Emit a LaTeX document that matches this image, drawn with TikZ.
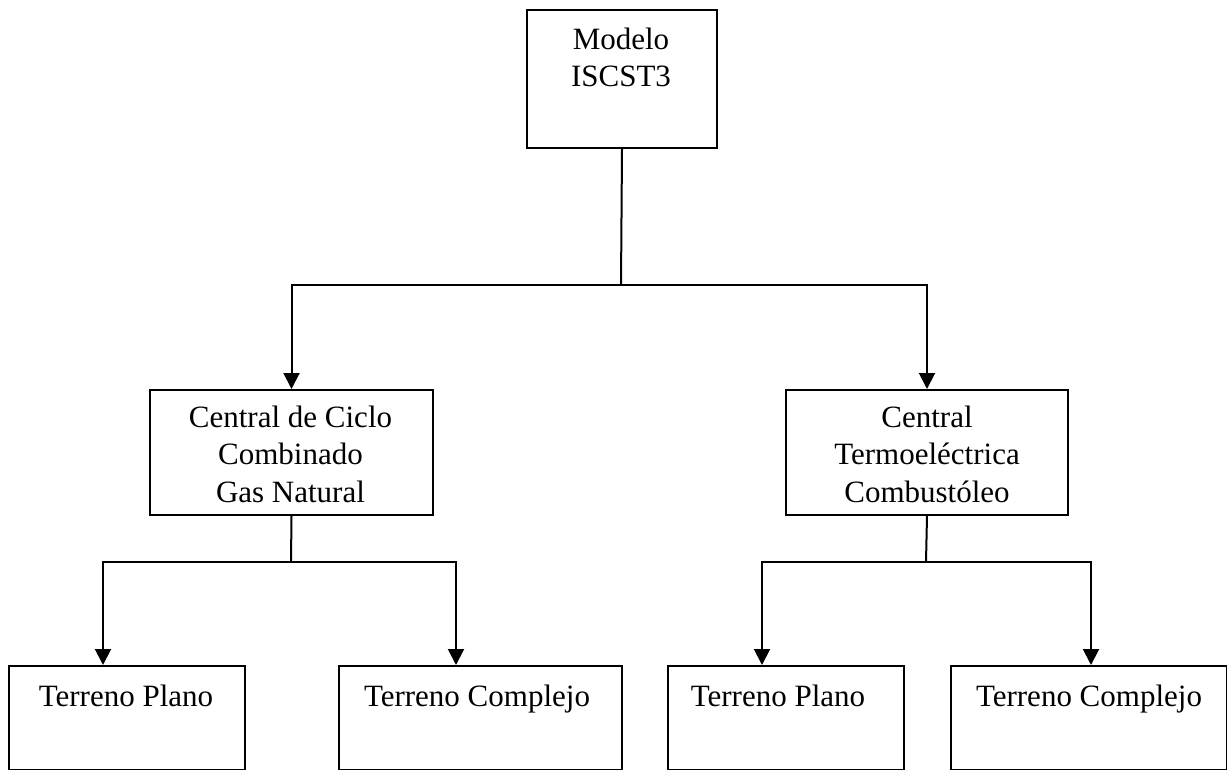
\documentclass[tikz,border=0pt]{standalone}
\usepackage{fontspec}
\setmainfont{Liberation Serif}
\usetikzlibrary{arrows.meta}
\begin{document}
\begin{tikzpicture}[x=1pt,y=-1pt,
  box/.style={draw, line width=2pt, inner sep=0pt, anchor=north west},
  lbl/.style={font=\fontsize{31}{37.5}\selectfont, align=center, anchor=base, inner sep=0pt},
  wire/.style={line width=2pt},
  arr/.style={line width=2pt, -{Triangle[length=16pt,width=16pt]}}]
\useasboundingbox (0,0) rectangle (1227,770);

% boxes
\node[box, minimum width=190pt, minimum height=138pt] (top) at (526,9) {};
\node[box, minimum width=283pt, minimum height=125pt] (midL) at (149,389) {};
\node[box, minimum width=282pt, minimum height=125pt] (midR) at (785,389) {};
\node[box, minimum width=236pt, minimum height=104pt] (b1) at (8,665) {};
\node[box, minimum width=283pt, minimum height=104pt] (b2) at (338,665) {};
\node[box, minimum width=236pt, minimum height=104pt] (b3) at (667,665) {};
\node[box, minimum width=276pt, minimum height=104pt] (b4) at (950,665) {};

% texts (anchored at the baseline of their last line)
\node[lbl] (ttop) at (621,87) {Modelo\\ISCST3};
\node[lbl] (tmidL) at (290.5,502) {Central de Ciclo\\Combinado\\Gas Natural};
\node[lbl] (tmidR) at (927,502) {Central\\Termoeléctrica\\Combustóleo};
\node[lbl] (tb1) at (126,706) {Terreno Plano};
\node[lbl] (tb2) at (477,706) {Terreno Complejo};
\node[lbl] (tb3) at (778,706) {Terreno Plano};
\node[lbl] (tb4) at (1089,706) {Terreno Complejo};

% junctions and arrow targets
\coordinate (j0) at (621,285);
\coordinate (jL) at (291,562);
\coordinate (jR) at (926,562);
\coordinate (t1) at (103,665);
\coordinate (t2) at (456,665);
\coordinate (t3) at (762,665);
\coordinate (t4) at (1091,665);

% connectors
\draw[wire] (top.south) -- (j0);
\draw[arr] (j0) -| (midL.north);
\draw[arr] (j0) -| (midR.north);
\draw[wire] (midL.south) -- (jL);
\draw[arr] (jL) -| (t1);
\draw[arr] (jL) -| (t2);
\draw[wire] (midR.south) -- (jR);
\draw[arr] (jR) -| (t3);
\draw[arr] (jR) -| (t4);
\end{tikzpicture}
\end{document}
